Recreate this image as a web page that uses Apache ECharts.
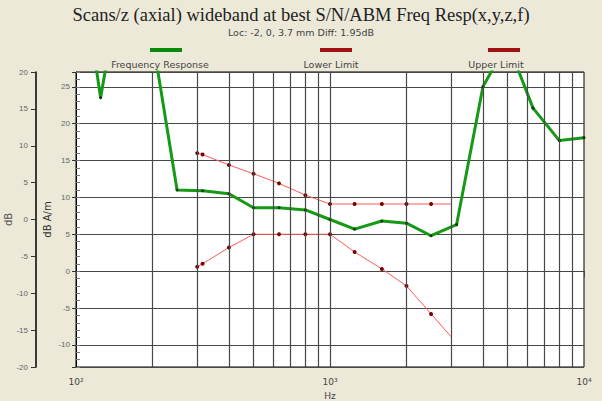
<!DOCTYPE html>
<html>
<head>
<meta charset="utf-8">
<title>Freq Resp</title>
<script src="https://cdn.jsdelivr.net/npm/echarts@6.0.0/dist/echarts.min.js"></script>
<style>
  html, body { margin: 0; padding: 0; background: #ece9d8; }
  #chart { width: 602px; height: 401px; }
</style>
</head>
<body>
<div id="chart"></div>
<script>
// 1/3 octave band centres, Hz
var freqs = [100, 125, 160, 200, 250, 315, 400, 500, 630, 800, 1000, 1250, 1600, 2000, 2500, 3150, 4000, 5000, 6300, 8000, 10000];
// dB A/m
var response = [46, 23.5, 45, 31.6, 11.0, 10.9, 10.5, 8.6, 8.6, 8.3, 7.0, 5.7, 6.8, 6.5, 4.8, 6.3, 25.0, 31, 22.1, 17.7, 18.1];

var limitFreqs = [300, 315, 400, 500, 630, 800, 1000, 1250, 1600, 2000, 2500, 3000];
var lowerLimit = [0.6, 1.0, 3.2, 5.0, 5.0, 5.0, 5.0, 2.6, 0.3, -2.0, -5.8, -8.9];
var upperLimit = [16.0, 15.8, 14.4, 13.2, 11.9, 10.3, 9.1, 9.1, 9.1, 9.1, 9.1, 9.1];

// vertical grid lines inside the decades
var gridFreqs = [200, 300, 400, 500, 600, 700, 800, 900, 1000, 2000, 3000, 4000, 5000, 6000, 7000, 8000, 9000];
var decadeLabels = { 100: '10²', 1000: '10³', 10000: '10⁴' };
var legendNames = ['Frequency Response', 'Lower Limit', 'Upper Limit'];

var labelColor = '#666';
var gridColor = '#484848';

function pairs(xs, ys) {
  return xs.map(function (x, i) { return [x, ys[i]]; });
}

// last point of a limit line has no marker
function limitData(ys) {
  var d = pairs(limitFreqs, ys);
  d[d.length - 1] = { value: d[d.length - 1], symbol: 'none' };
  return d;
}

function legendIcon(name, color, left) {
  return {
    data: [{ name: name, itemStyle: { color: color }, lineStyle: { color: color, width: 4 } }],
    left: left,
    top: 43,
    itemWidth: 32,
    itemHeight: 4,
    icon: 'rect',
    formatter: function () { return ''; },
    selectedMode: false
  };
}

function legendText(name, x) {
  return {
    type: 'text', x: x, y: 64,
    style: { text: name, textAlign: 'center', textVerticalAlign: 'middle', font: '9.5px "DejaVu Sans"', fill: '#444' }
  };
}

var chart = echarts.init(document.getElementById('chart'), null, { renderer: 'svg' });

var option = {
  backgroundColor: '#ece9d8',
  animation: false,
  title: {
    text: 'Scans/z (axial) wideband at best S/N/ABM Freq Resp(x,y,z,f)',
    subtext: 'Loc: -2, 0, 3.7 mm Diff: 1.95dB',
    left: 'center',
    top: 0,
    itemGap: 3,
    textStyle: { fontFamily: 'Liberation Serif', fontSize: 18.5, fontWeight: 'normal', color: '#222' },
    subtextStyle: { fontFamily: 'DejaVu Sans', fontSize: 9.5, color: '#444' }
  },
  legend: [
    legendIcon(legendNames[0], '#0a8a0a', 145),
    legendIcon(legendNames[1], '#a01010', 315),
    legendIcon(legendNames[2], '#a01010', 483)
  ],
  graphic: [
    legendText(legendNames[0], 160),
    legendText(legendNames[1], 331),
    legendText(legendNames[2], 496)
  ],
  grid: {
    left: 76,
    right: 18,
    top: 72,
    bottom: 34,
    outerBoundsMode: 'none',
    show: true,
    backgroundColor: '#fff',
    borderColor: '#000',
    borderWidth: 1
  },
  xAxis: {
    type: 'log',
    logBase: 10,
    min: 100,
    max: 10000,
    name: 'Hz',
    nameLocation: 'middle',
    nameGap: 24,
    nameMoveOverlap: false,
    nameTextStyle: { fontFamily: 'DejaVu Sans', fontSize: 9, color: '#444' },
    axisLine: { lineStyle: { color: '#444' } },
    axisTick: { length: 6, lineStyle: { color: '#444' } },
    axisLabel: {
      fontFamily: 'DejaVu Sans',
      fontSize: 9,
      color: '#444',
      margin: 10,
      formatter: function (v) { return decadeLabels[Math.round(v)] || ''; }
    },
    splitLine: { show: false }
  },
  yAxis: [
    {
      // inner dB A/m axis
      type: 'value',
      position: 'left',
      min: -13,
      max: 27,
      splitNumber: 8,
      name: 'dB A/m',
      nameLocation: 'middle',
      nameGap: 24,
      nameMoveOverlap: false,
      nameTextStyle: { fontFamily: 'DejaVu Sans', fontSize: 10, color: '#333' },
      axisLine: { show: true, lineStyle: { color: '#000' } },
      axisTick: { show: true, length: 4, lineStyle: { color: '#333' } },
      axisLabel: {
        fontFamily: 'Liberation Sans',
        fontSize: 8,
        color: labelColor,
        margin: 6,
        formatter: function (v) { return v % 5 === 0 ? String(v) : ''; }
      },
      splitLine: { show: true, lineStyle: { color: gridColor, width: 1 } }
    },
    {
      // outer dB axis
      type: 'value',
      position: 'left',
      offset: 40,
      min: -20,
      max: 20,
      interval: 5,
      name: 'dB',
      nameLocation: 'middle',
      nameGap: 23,
      nameMoveOverlap: false,
      nameTextStyle: { fontFamily: 'DejaVu Sans', fontSize: 10, color: '#555' },
      axisLine: { show: true, lineStyle: { color: '#000', width: 1.5 } },
      axisTick: { show: true, length: 5, lineStyle: { color: '#333' } },
      axisLabel: { fontFamily: 'Liberation Sans', fontSize: 8, color: labelColor, margin: 8 },
      splitLine: { show: false }
    },
    {
      // minor ticks inside the plot, every 1 dB
      type: 'value',
      position: 'left',
      min: -13,
      max: 27,
      interval: 1,
      axisLine: { show: false },
      axisTick: { show: true, inside: true, length: 4, lineStyle: { color: '#777' } },
      axisLabel: { show: false },
      splitLine: { show: false }
    }
  ],
  series: [
    {
      name: 'grid',
      type: 'line',
      data: [],
      silent: true,
      z: 1,
      markLine: {
        silent: true,
        symbol: ['none', 'none'],
        label: { show: false },
        lineStyle: { color: gridColor, width: 1.2, type: 'solid' },
        data: gridFreqs.map(function (f) { return { xAxis: f }; })
      }
    },
    {
      name: legendNames[1],
      type: 'line',
      data: limitData(lowerLimit),
      symbol: 'circle',
      symbolSize: 4,
      lineStyle: { color: '#ff5a5a', width: 1 },
      itemStyle: { color: '#7a0000' },
      z: 3
    },
    {
      name: legendNames[2],
      type: 'line',
      data: limitData(upperLimit),
      symbol: 'circle',
      symbolSize: 4,
      lineStyle: { color: '#ff5a5a', width: 1 },
      itemStyle: { color: '#7a0000' },
      z: 3
    },
    {
      name: legendNames[0],
      type: 'line',
      data: pairs(freqs, response),
      symbol: 'circle',
      symbolSize: 3,
      lineStyle: { color: '#169a16', width: 3 },
      itemStyle: { color: '#0b3a0b' },
      z: 4
    }
  ]
};

chart.setOption(option);
</script>
</body>
</html>
